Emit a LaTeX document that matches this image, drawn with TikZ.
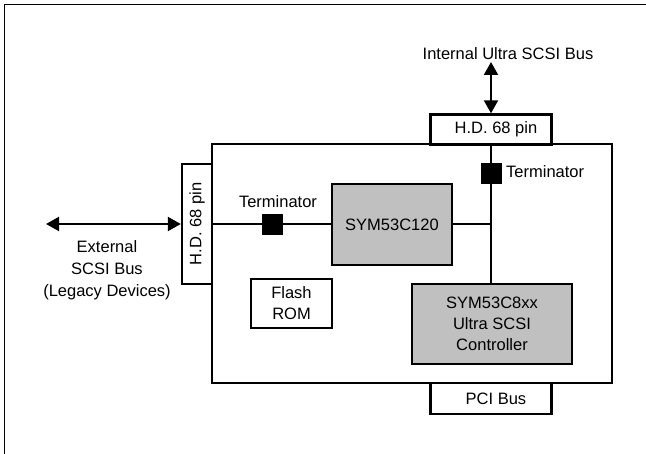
\documentclass[tikz,border=0pt]{standalone}
\usepackage{fontspec}
\setmainfont{Liberation Sans}
\usetikzlibrary{arrows.meta}
\definecolor{chipgray}{RGB}{192,192,192}
\begin{document}
\begin{tikzpicture}[x=1pt,y=-1pt,
 box/.style={draw, line width=2.4pt, inner sep=0pt, align=center, font=\fontsize{16.5}{21}\selectfont},
 chip/.style={box, fill=chipgray, line width=1.8pt},
 term/.style={draw, fill=black, minimum size=20pt, inner sep=0pt},
 txt/.style={inner sep=0pt, align=center, font=\fontsize{16.5}{22}\selectfont},
 wire/.style={line width=2.2pt},
 bus/.style={line width=2.2pt, {Triangle[length=13pt,width=14pt]}-{Triangle[length=13pt,width=14pt]}}
]
\useasboundingbox (0,0) rectangle (646,454);
\draw[line width=1.4pt] (646,4.5) -- (4.5,4.5) -- (4.5,454);
% board
\node[box, line width=2.6pt, minimum width=400pt, minimum height=239pt] (board) at (412,263.5) {};
% connectors boxes
\node[box, fill=white, minimum width=121pt, minimum height=30pt] (hdtop) at (491,129.5) {\hspace*{10pt}H.D. 68 pin};
\node[box, fill=white, minimum width=121pt, minimum height=31pt] (pci) at (491,398.5) {\hspace*{10pt}PCI Bus};
\node[box, fill=white, minimum width=30pt, minimum height=120pt] (hdleft) at (197,224) {\rotatebox{90}{H.D. 68 pin}};
% chips
\node[chip, minimum width=120pt, minimum height=81pt] (c120) at (392,224.5) {SYM53C120};
\node[chip, minimum width=160pt, minimum height=80pt] (c8xx) at (492,324) {SYM53C8xx\\Ultra SCSI\\Controller};
\node[box, line width=1.8pt, minimum width=81pt, minimum height=49pt] (flash) at (291.5,303.5) {Flash\\ROM};
% terminators
\node[term] (t1) at (272.5,224) {};
\node[term] (t2) at (491,173) {};
\node[txt] (t1lbl) at (278,202) {Terminator};
\node[txt, anchor=west] (t2lbl) at (506,172) {Terminator};
% wires
\coordinate (j) at (492,224);
\draw[wire] (hdleft.east |- t1) -- (t1.west);
\draw[wire] (t1.east) -- (t1.east -| c120.west);
\draw[wire] (c120.east |- j) -- (j);
\draw[wire] (hdtop.south) -- (t2.north);
\draw[wire] (t2.south) -- (t2.south |- c8xx.north);
% external buses
\coordinate (extend) at (46,224);
\coordinate (intend) at (491,62);
\draw[bus] (extend) -- (hdleft.west |- extend);
\draw[bus] (intend) -- (hdtop.north);
\node[txt] (inttxt) at (508,54) {Internal Ultra SCSI Bus};
\node[txt] (exttxt) at (107,270) {External\\SCSI Bus\\(Legacy Devices)};
\end{tikzpicture}
\end{document}
